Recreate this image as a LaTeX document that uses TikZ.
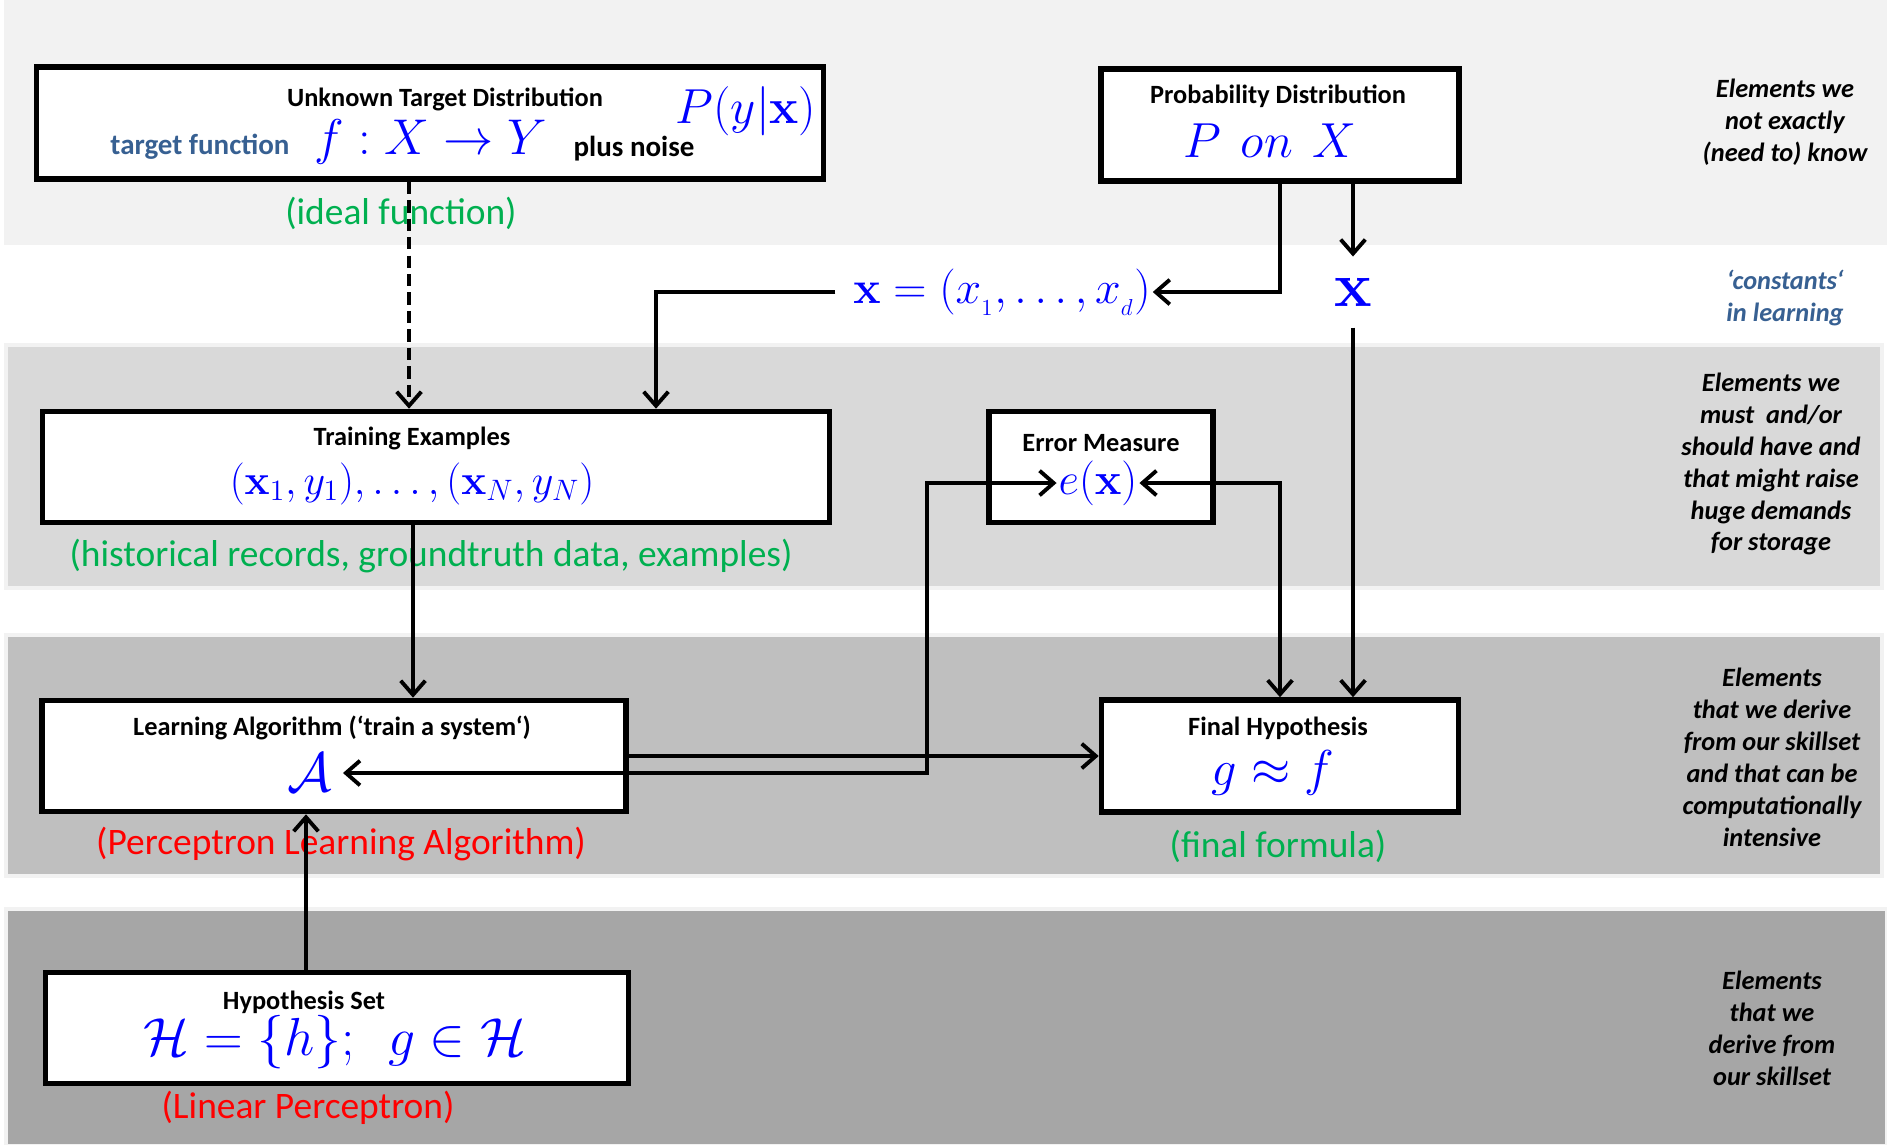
\RequirePackage{fix-cm}
\documentclass[tikz,border=0pt]{standalone}
\usepackage[no-math]{fontspec}
\setmainfont{Carlito}
\usetikzlibrary{arrows.meta}
\definecolor{bandA}{HTML}{F2F2F2}
\definecolor{bandB}{HTML}{D9D9D9}
\definecolor{bandC}{HTML}{BFBFBF}
\definecolor{bandD}{HTML}{A6A6A6}
\definecolor{notegreen}{HTML}{00B050}
\definecolor{steel}{HTML}{376092}
\tikzset{
  >={Straight Barb[length=8pt,width=14pt]},
  box/.style={draw, line width=3.2pt, fill=white, inner sep=0pt},
  boxtitle/.style={font=\fontsize{15}{18}\selectfont\bfseries},
  formula/.style={text=blue, inner sep=1pt},
  note/.style={font=\fontsize{21.3}{25}\selectfont},
  side/.style={font=\fontsize{15}{18.2}\selectfont\bfseries\itshape, align=center},
  conn/.style={line width=2.2pt},
}
\begin{document}
\begin{tikzpicture}[x=0.02cm,y=-0.02cm]
\useasboundingbox (0,0) rectangle (1887,1144);
\fill[white] (0,0) rectangle (1887,1144);

% Draw bands
\fill[bandA] (4,0) rectangle (1887,245);
\draw[bandA, fill=bandB, line width=2pt] (6,345) rectangle (1882,588);
\draw[bandA, fill=bandC, line width=2pt] (6,635) rectangle (1882,876);
\draw[bandA, fill=bandD, line width=2pt] (6,909) rectangle (1887,1146);

% Draw boxes
\node[box, minimum width=15.74cm, minimum height=2.24cm] (utd) at (430,123) {};
\node[box, minimum width=7.16cm, minimum height=2.24cm] (pd) at (1280,125) {};
\node[box, minimum width=15.74cm, minimum height=2.22cm] (te) at (436,467) {};
\node[box, minimum width=4.48cm, minimum height=2.22cm] (em) at (1101,467) {};
\node[box, minimum width=11.68cm, minimum height=2.22cm] (la) at (334,756) {};
\node[box, minimum width=7.14cm, minimum height=2.24cm] (fh) at (1280,756) {};
\node[box, minimum width=11.66cm, minimum height=2.22cm] (hs) at (337,1028) {};

% Box contents
\node[boxtitle] (utdtitle) at (445,99) {Unknown Target Distribution};
\node[font=\fontsize{16.5}{20}\selectfont\bfseries, text=steel] (tf) at (200,147) {target function};
\node[formula, font=\fontsize{28.6}{31}\selectfont] (f) at (431,142) {$f:X\rightarrow Y$};
\node[font=\fontsize{16.5}{20}\selectfont\bfseries] (noise) at (634,149) {plus noise};
\node[formula, font=\fontsize{28}{30}\selectfont] (pyx) at (746,111) {$P(y|\mathbf{x})$};

\node[boxtitle] (pdtitle) at (1278,96) {Probability Distribution};
\node[formula, font=\fontsize{28}{30}\selectfont] (pon) at (1270,141) {$P\ \,on\ \,X$};

\node[boxtitle] (tetitle) at (412,438) {Training Examples};
\node[formula, font=\fontsize{24}{26}\selectfont] (data) at (412,484)
  {$\bigl(\mathbf{x}_1,y_1\bigr),\ldots,\bigl(\mathbf{x}_N,y_N\bigr)$};

\node[boxtitle] (emtitle) at (1101,443) {Error Measure};
\node[formula, font=\fontsize{25.5}{27}\selectfont] (ex) at (1098,483) {$e(\mathbf{x})$};

\node[boxtitle] (latitle) at (332,728) {Learning Algorithm (‘train a system‘)};
\node[formula, font=\fontsize{31.5}{33}\selectfont, inner sep=6pt] (A) at (310,773) {$\mathcal{A}$};

\node[boxtitle] (fhtitle) at (1278,728) {Final Hypothesis};
\node[formula, font=\fontsize{28.7}{31}\selectfont] (g) at (1273,773) {$g\approx f$};

\node[boxtitle] (hstitle) at (304,1002) {Hypothesis Set};
\node[formula, font=\fontsize{30.5}{33}\selectfont] (hset) at (335,1042)
  {$\mathcal{H}=\{h\};\ \ g\in\mathcal{H}$};

% Free symbols
\node[formula, font=\fontsize{26.2}{28}\selectfont] (xvec) at (1002,292)
  {$\mathbf{x}=(x_{_1},\ldots,x_{_d})$};
\node[formula, font=\fontsize{36}{38}\selectfont, inner sep=12pt] (bx) at (1353,292) {$\mathbf{x}$};

% Notes under boxes
\node[note, text=notegreen] (ideal) at (401,213) {(ideal function)};
\node[note, text=notegreen] (hist) at (431,556) {(historical records, groundtruth data, examples)};
\node[note, text=red] (pla) at (341,844) {(Perceptron Learning Algorithm)};
\node[note, text=notegreen] (final) at (1278,846) {(final formula)};
\node[note, text=red] (lin) at (308,1108) {(Linear Perceptron)};

% Side comments
\node[side] (s1) at (1785,122) {Elements we\\not exactly\\(need to) know};
\node[side, text=steel] (s2) at (1785,298) {‘constants‘\\in learning};
\node[side] (s3) at (1771,464) {Elements we\\must\ \ and/or\\should have and\\that might raise\\huge demands\\for storage};
\node[side] (s4) at (1772,757) {Elements\\that we derive\\from our skillset\\and that can be\\computationally\\intensive};
\node[side] (s5) at (1772,1028) {Elements\\that we\\derive from\\our skillset};

% Draw connectors
\coordinate (dash) at (409,0);
\coordinate (tex) at (413,0);
\coordinate (side) at (656,0);
\coordinate (loop) at (927,0);
\coordinate (hsx) at (306,0);
\draw[conn, ->, dash pattern=on 7pt off 3.5pt] (utd.south -| dash) -- (te.north -| dash);
\draw[conn, ->] (pd.south) |- (xvec.east);
\draw[conn, ->] (pd.south -| bx.north) -- (bx.north);
\draw[conn, ->, shorten <=9pt] (xvec.west) -| (te.north -| side);
\draw[conn, ->] (bx.south) -- (bx.south |- fh.north);
\draw[conn, ->] (te.south -| tex) -- (la.north -| tex);
\draw[conn, ->] (la.east) -- (fh.west);
\draw[conn, <->] (A.east) -- (A.east -| loop) |- (ex.west);
\draw[conn, <->] (ex.east) -| (fh.north);
\draw[conn, ->] (hs.north -| hsx) -- (la.south -| hsx);
\end{tikzpicture}
\end{document}
